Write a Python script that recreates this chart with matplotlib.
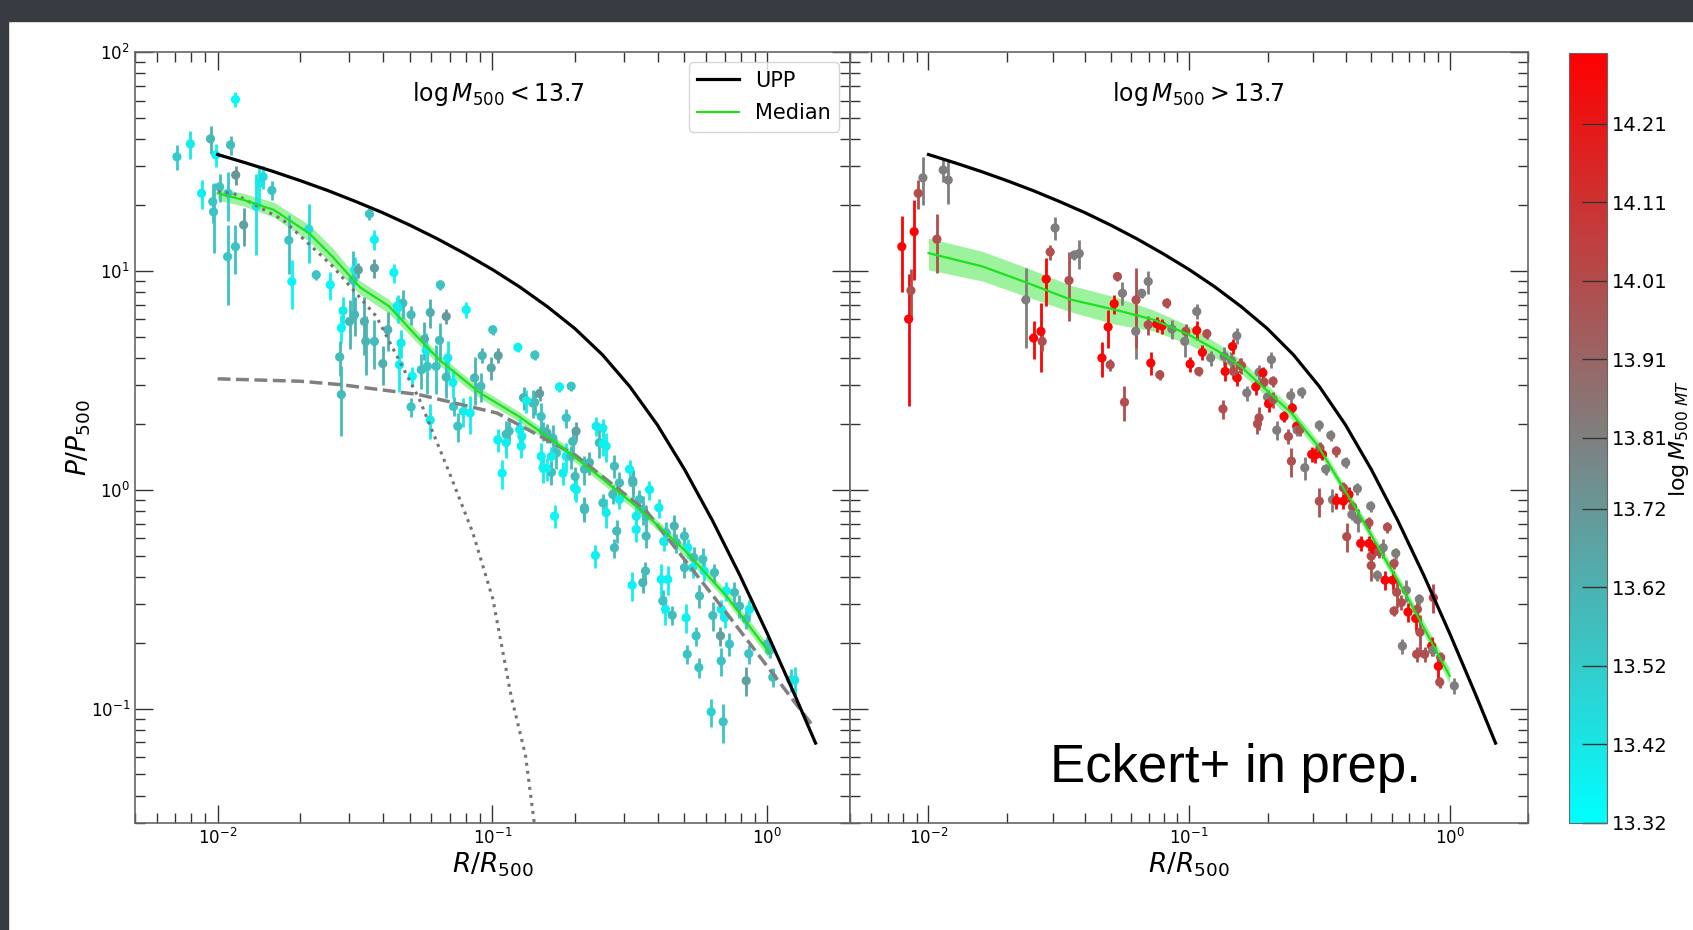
import numpy as np
import matplotlib
matplotlib.use("Agg")
import matplotlib.pyplot as plt
import matplotlib.cm as cm
from matplotlib.colors import LinearSegmentedColormap, Normalize
from matplotlib.patches import Rectangle

plt.rcParams["mathtext.fontset"] = "custom"
plt.rcParams["mathtext.rm"] = "DejaVu Sans Condensed"
plt.rcParams["mathtext.it"] = "DejaVu Sans Condensed:italic"
plt.rcParams["mathtext.bf"] = "DejaVu Sans Condensed:bold"

# ---- profiles ----
upp_r = [0.01, 0.01259, 0.01585, 0.01995, 0.02512, 0.03162, 0.03981, 0.05012, 0.0631, 0.07943,
         0.1, 0.1259, 0.1585, 0.1995, 0.2512, 0.3162, 0.3981, 0.5012, 0.631, 0.7943,
         1.0, 1.259, 1.5]
upp_p = [34.0, 31.2, 28.5, 25.85, 23.3, 20.8, 18.45, 16.16, 14.0, 11.98,
         10.14, 8.43, 6.86, 5.45, 4.14, 2.96, 1.98, 1.233, 0.726, 0.408,
         0.2206, 0.1156, 0.0695]

lo_med_r = [0.01, 0.0124, 0.016, 0.0216, 0.0262, 0.033, 0.042, 0.054, 0.064, 0.09,
            0.125, 0.175, 0.245, 0.35, 0.5, 0.71, 1.02]
lo_med_p = [22.6, 21.1, 19.0, 14.8, 11.6, 8.4, 6.9, 4.9, 3.93, 2.77,
            2.16, 1.6, 1.15, 0.80, 0.53, 0.327, 0.18]
lo_med_lo = [21.0, 19.8, 17.6, 13.6, 10.6, 7.8, 6.4, 4.6, 3.7, 2.62,
             2.05, 1.52, 1.09, 0.76, 0.50, 0.31, 0.168]
lo_med_hi = [24.0, 22.6, 20.6, 16.2, 12.7, 9.0, 7.4, 5.2, 4.15, 2.92,
             2.27, 1.68, 1.21, 0.84, 0.56, 0.345, 0.192]

hi_med_r = [0.01, 0.016, 0.024, 0.035, 0.052, 0.0735, 0.1, 0.129, 0.158, 0.185,
            0.247, 0.313, 0.374, 0.446, 0.547, 0.673, 0.827, 1.0]
hi_med_p = [12.05, 10.5, 8.8, 7.4, 6.64, 5.97, 5.1, 4.3, 3.66, 3.07,
            2.24, 1.58, 1.11, 0.785, 0.515, 0.339, 0.215, 0.141]
hi_med_lo = [10.1, 9.0, 7.6, 6.5, 5.7, 5.3, 4.6, 3.95, 3.4, 2.88,
             2.1, 1.49, 1.05, 0.74, 0.485, 0.318, 0.2, 0.13]
hi_med_hi = [14.1, 12.3, 10.3, 8.6, 7.6, 6.6, 5.6, 4.65, 3.92, 3.27,
             2.38, 1.67, 1.17, 0.83, 0.545, 0.36, 0.23, 0.152]

# two-component model in the low-mass panel
outer_r = [0.01, 0.02, 0.028, 0.054, 0.104, 0.2, 0.363, 0.71, 1.02, 1.47]
outer_p = [3.21, 3.13, 3.02, 2.72, 2.24, 1.44, 0.80, 0.274, 0.151, 0.083]
core_r = [0.01, 0.0114, 0.0173, 0.0262, 0.0378, 0.0543, 0.0698, 0.0849, 0.1004, 0.117, 0.132, 0.142]
core_p = [23.0, 22.6, 17.1, 10.5, 6.19, 2.58, 1.19, 0.635, 0.316, 0.114, 0.061, 0.03]

# ---- individual clusters, low mass ----
lo_r = [0.00711, 0.00796, 0.00942, 0.00985, 0.01114, 0.01161, 0.01163, 0.00874, 0.0096, 0.00966,
        0.01016, 0.01092, 0.01087, 0.01161, 0.01243, 0.01382, 0.0142, 0.01464, 0.01575, 0.01816,
        0.01862, 0.02147, 0.02285, 0.0257, 0.0282, 0.0302, 0.0315, 0.0325, 0.0311, 0.0357,
        0.0372, 0.0372, 0.0438, 0.0647, 0.0803, 0.1003, 0.0679, 0.0506, 0.0472, 0.045,
        0.0416, 0.0278, 0.0282, 0.0315, 0.0342, 0.0346, 0.0372, 0.0399, 0.0459, 0.0453,
        0.0511, 0.0506, 0.0566, 0.0551, 0.058, 0.0574, 0.0594, 0.0594, 0.0642, 0.0624,
        0.0679, 0.0688, 0.0718, 0.0722, 0.0748, 0.0784, 0.083, 0.0861, 0.0908, 0.0918,
        0.099, 0.105, 0.1238, 0.1427, 0.1046, 0.1122, 0.1085, 0.1257, 0.1274, 0.1298,
        0.1403, 0.1484, 0.1505, 0.1505, 0.1528, 0.166, 0.171, 0.1754, 0.1935, 0.1857,
        0.1857, 0.1684, 0.2016, 0.2163, 0.2163, 0.2255, 0.2385, 0.2524, 0.245, 0.2595,
        0.278, 0.2743, 0.2524, 0.290, 0.3155, 0.3245, 0.3337, 0.3526, 0.3626, 0.237,
        0.278, 0.2834, 0.3226, 0.3607, 0.3526, 0.4114, 0.4346, 0.417, 0.4265, 0.4513,
        0.507, 0.5514, 0.5116, 0.564, 0.6254, 0.6917, 0.6806, 0.676, 0.729, 0.857,
        0.839, 1.048, 1.22, 1.26, 1.0, 1.02, 0.862, 0.839, 0.793, 0.76,
        0.709, 0.68, 0.70, 0.634, 0.643, 0.59, 0.583, 0.54, 0.535, 0.567,
        0.5, 0.514, 0.467, 0.459, 0.5, 0.429, 0.42, 0.4036, 0.373, 0.3626,
        0.343, 0.334, 0.324, 0.29, 0.2595, 0.2524, 0.2163, 0.199, 0.2, 0.193,
        0.164, 0.164, 0.158, 0.1122, 0.115, 0.128, 0.1805, 0.202, 0.1424, 0.133,
        0.153, 0.158, 0.196, 0.0286, 0.0465]
lo_p = [33.2, 38.0, 40.1, 33.8, 37.6, 60.7, 27.4, 22.6, 20.7, 18.6,
        24.2, 22.6, 11.6, 12.9, 16.2, 19.7, 25.1, 26.9, 23.3, 13.8,
        8.94, 15.5, 9.59, 8.63, 5.48, 5.87, 10.1, 10.1, 9.1, 18.2,
        13.9, 10.3, 9.82, 8.63, 6.64, 5.38, 6.19, 6.3, 7.12, 6.9,
        5.38, 4.04, 2.72, 6.3, 5.87, 4.76, 4.76, 3.77, 3.72, 6.76,
        3.3, 2.39, 4.88, 3.53, 3.66, 4.33, 6.45, 2.08, 4.81, 3.66,
        3.27, 4.0, 3.09, 2.4, 1.95, 2.28, 2.24, 3.24, 2.97, 4.1,
        3.6, 4.1, 4.47, 4.12, 1.69, 1.79, 1.19, 1.88, 1.58, 2.63,
        2.49, 2.75, 2.16, 1.42, 1.26, 1.72, 1.47, 2.95, 2.97, 2.13,
        1.42, 0.757, 1.85, 1.24, 0.827, 1.33, 1.95, 1.91, 1.64, 1.58,
        1.28, 0.951, 0.871, 0.902, 1.24, 1.075, 0.658, 0.812, 0.614, 0.501,
        0.543, 0.647, 0.366, 0.425, 0.376, 0.389, 0.389, 0.31, 0.284, 0.267,
        0.26, 0.215, 0.177, 0.154, 0.0966, 0.087, 0.165, 0.215, 0.197, 0.178,
        0.134, 0.139, 0.135, 0.135, 0.197, 0.184, 0.284, 0.256, 0.294, 0.339,
        0.345, 0.284, 0.26, 0.266, 0.418, 0.425, 0.481, 0.49, 0.44, 0.327,
        0.44, 0.543, 0.573, 0.682, 0.614, 0.637, 0.58, 0.827, 1.0, 0.757,
        0.902, 0.757, 1.1, 1.075, 0.785, 1.62, 0.81, 1.02, 1.15, 1.42,
        1.42, 1.2, 1.25, 1.64, 1.85, 1.75, 1.19, 1.0, 2.5, 2.55,
        1.85, 1.82, 1.66, 6.57, 4.68]
lo_err = [0.13, 0.15, 0.15, 0.12, 0.10, 0.08, 0.10, 0.15, 0.20, 0.35,
          0.15, 0.25, 0.40, 0.25, 0.20, 0.40, 0.20, 0.12, 0.10, 0.30,
          0.25, 0.30, 0.05, 0.15, 0.15, 0.25, 0.15, 0.08, 0.35, 0.06,
          0.10, 0.10, 0.10, 0.05, 0.08, 0.05, 0.08, 0.10, 0.15, 0.10,
          0.20, 0.18, 0.35, 0.20, 0.30, 0.30, 0.25, 0.20, 0.25, 0.15,
          0.10, 0.10, 0.20, 0.18, 0.25, 0.20, 0.15, 0.18, 0.20, 0.25,
          0.20, 0.20, 0.15, 0.10, 0.15, 0.15, 0.20, 0.25, 0.15, 0.08,
          0.12, 0.08, 0.05, 0.05, 0.12, 0.15, 0.15, 0.12, 0.12, 0.12,
          0.15, 0.08, 0.15, 0.15, 0.15, 0.15, 0.15, 0.05, 0.05, 0.10,
          0.15, 0.12, 0.10, 0.15, 0.12, 0.12, 0.10, 0.10, 0.15, 0.15,
          0.12, 0.10, 0.10, 0.10, 0.10, 0.15, 0.12, 0.15, 0.12, 0.12,
          0.10, 0.12, 0.15, 0.10, 0.10, 0.18, 0.15, 0.12, 0.15, 0.10,
          0.15, 0.10, 0.10, 0.10, 0.15, 0.20, 0.15, 0.10, 0.12, 0.10,
          0.15, 0.10, 0.12, 0.15, 0.08, 0.08, 0.10, 0.10, 0.12, 0.12,
          0.10, 0.10, 0.10, 0.15, 0.10, 0.10, 0.12, 0.12, 0.10, 0.12,
          0.10, 0.10, 0.10, 0.12, 0.10, 0.12, 0.10, 0.10, 0.10, 0.12,
          0.10, 0.12, 0.12, 0.12, 0.15, 0.12, 0.12, 0.12, 0.10, 0.12,
          0.10, 0.12, 0.12, 0.15, 0.12, 0.12, 0.12, 0.12, 0.12, 0.12,
          0.10, 0.10, 0.10, 0.15, 0.15]
lo_m = [13.52, 13.40, 13.60, 13.36, 13.58, 13.34, 13.72, 13.38, 13.55, 13.55,
        13.56, 13.52, 13.55, 13.55, 13.68, 13.42, 13.40, 13.45, 13.55, 13.55,
        13.36, 13.45, 13.55, 13.36, 13.36, 13.60, 13.38, 13.68, 13.55, 13.55,
        13.38, 13.68, 13.36, 13.55, 13.36, 13.55, 13.70, 13.58, 13.58, 13.40,
        13.62, 13.58, 13.58, 13.60, 13.62, 13.60, 13.58, 13.62, 13.38, 13.40,
        13.36, 13.55, 13.62, 13.58, 13.55, 13.40, 13.62, 13.40, 13.58, 13.55,
        13.58, 13.40, 13.38, 13.55, 13.55, 13.40, 13.38, 13.60, 13.58, 13.60,
        13.66, 13.68, 13.38, 13.55, 13.38, 13.58, 13.36, 13.40, 13.38, 13.62,
        13.58, 13.70, 13.55, 13.38, 13.38, 13.58, 13.55, 13.38, 13.55, 13.55,
        13.38, 13.36, 13.68, 13.58, 13.58, 13.60, 13.40, 13.40, 13.58, 13.38,
        13.58, 13.58, 13.55, 13.40, 13.38, 13.58, 13.38, 13.58, 13.58, 13.38,
        13.58, 13.58, 13.38, 13.58, 13.60, 13.38, 13.38, 13.55, 13.38, 13.58,
        13.38, 13.55, 13.55, 13.55, 13.50, 13.55, 13.55, 13.68, 13.55, 13.55,
        13.68, 13.55, 13.50, 13.42, 13.55, 13.55, 13.40, 13.55, 13.58, 13.58,
        13.38, 13.40, 13.40, 13.58, 13.58, 13.38, 13.55, 13.58, 13.40, 13.58,
        13.58, 13.38, 13.58, 13.60, 13.58, 13.55, 13.40, 13.38, 13.38, 13.58,
        13.55, 13.40, 13.60, 13.58, 13.40, 13.38, 13.58, 13.38, 13.58, 13.58,
        13.40, 13.58, 13.38, 13.40, 13.58, 13.40, 13.38, 13.38, 13.58, 13.40,
        13.58, 13.60, 13.58, 13.40, 13.40]

# ---- individual clusters, high mass ----
hi_r = [0.0079, 0.00839, 0.00856, 0.00881, 0.00913, 0.00952, 0.01077, 0.01139, 0.0119, 0.02363,
        0.0253, 0.027, 0.0273, 0.0283, 0.0293, 0.0306, 0.0346, 0.0362, 0.0379, 0.0463,
        0.0498, 0.0489, 0.0516, 0.0531, 0.0555, 0.0565, 0.0624, 0.0626, 0.0658, 0.0697,
        0.0697, 0.0713, 0.0752, 0.0772, 0.0788, 0.0821, 0.0859, 0.0971, 0.0962, 0.1009,
        0.107, 0.107, 0.109, 0.1125, 0.117, 0.121, 0.1363, 0.1375, 0.1349, 0.1454,
        0.1468, 0.1524, 0.153, 0.157, 0.148, 0.1589, 0.1665, 0.1803, 0.1856, 0.192,
        0.194, 0.21, 0.2, 0.2018, 0.21, 0.1856, 0.183, 0.207, 0.217, 0.2314,
        0.2405, 0.2455, 0.2491, 0.2588, 0.26, 0.266, 0.2705, 0.247, 0.278, 0.2955,
        0.305, 0.318, 0.325, 0.316, 0.3345, 0.3497, 0.3675, 0.316, 0.355, 0.3675,
        0.391, 0.399, 0.391, 0.411, 0.4027, 0.4236, 0.4215, 0.4425, 0.443, 0.4556,
        0.49, 0.49, 0.4977, 0.5, 0.5, 0.5126, 0.528, 0.534, 0.556, 0.565,
        0.577, 0.6045, 0.6118, 0.621, 0.626, 0.6118, 0.6527, 0.682, 0.692, 0.7407,
        0.752, 0.765, 0.769, 0.6585, 0.747, 0.8017, 0.853, 0.86, 0.866, 0.924,
        0.905, 0.916, 1.042]
hi_p = [12.9, 6.02, 8.13, 15.1, 22.6, 26.6, 13.95, 28.9, 26.0, 7.37,
        4.93, 5.29, 4.76, 9.17, 12.2, 15.7, 9.04, 11.8, 12.0, 4.0,
        3.72, 5.54, 7.07, 9.42, 7.9, 2.51, 5.29, 7.37, 7.9, 8.94,
        5.67, 3.79, 5.72, 3.35, 5.6, 7.12, 5.42, 5.29, 4.76, 3.75,
        6.52, 5.34, 3.47, 4.24, 5.16, 4.0, 4.07, 3.47, 2.34, 3.89,
        4.51, 5.05, 3.24, 3.7, 3.47, 3.69, 2.77, 2.95, 3.44, 3.42,
        3.1, 3.13, 2.65, 2.47, 2.58, 2.13, 2.0, 3.93, 1.87, 2.16,
        1.75, 2.69, 2.36, 1.95, 1.87, 1.88, 2.79, 1.35, 1.26, 1.45,
        1.44, 1.55, 1.45, 1.97, 1.24, 1.77, 1.5, 0.886, 0.9, 0.89,
        0.886, 1.33, 1.02, 0.95, 0.61, 0.835, 0.77, 1.01, 0.73, 0.568,
        0.568, 0.706, 0.841, 0.497, 0.45, 0.533, 0.406, 0.52, 0.543, 0.386,
        0.674, 0.386, 0.46, 0.512, 0.34, 0.279, 0.305, 0.347, 0.276, 0.258,
        0.284, 0.316, 0.223, 0.193, 0.177, 0.177, 0.193, 0.185, 0.321, 0.171,
        0.156, 0.132, 0.127]
hi_err = [0.38, 0.60, 0.25, 0.40, 0.15, 0.25, 0.30, 0.12, 0.22, 0.40,
          0.20, 0.35, 0.10, 0.25, 0.08, 0.12, 0.35, 0.05, 0.15, 0.18,
          0.06, 0.20, 0.10, 0.05, 0.12, 0.18, 0.25, 0.40, 0.05, 0.12,
          0.10, 0.12, 0.08, 0.05, 0.08, 0.05, 0.10, 0.08, 0.15, 0.08,
          0.08, 0.10, 0.05, 0.08, 0.05, 0.08, 0.10, 0.10, 0.10, 0.10,
          0.08, 0.08, 0.08, 0.08, 0.08, 0.08, 0.08, 0.08, 0.08, 0.06,
          0.06, 0.06, 0.08, 0.08, 0.08, 0.12, 0.10, 0.08, 0.10, 0.06,
          0.08, 0.08, 0.05, 0.06, 0.06, 0.06, 0.06, 0.15, 0.12, 0.08,
          0.08, 0.06, 0.06, 0.06, 0.06, 0.06, 0.06, 0.15, 0.12, 0.08,
          0.08, 0.06, 0.06, 0.08, 0.15, 0.06, 0.06, 0.06, 0.12, 0.08,
          0.08, 0.06, 0.06, 0.08, 0.15, 0.08, 0.06, 0.06, 0.10, 0.10,
          0.06, 0.10, 0.06, 0.06, 0.15, 0.05, 0.08, 0.12, 0.10, 0.12,
          0.08, 0.06, 0.20, 0.08, 0.08, 0.08, 0.10, 0.06, 0.15, 0.06,
          0.15, 0.06, 0.08]
hi_m = [14.28, 14.28, 14.00, 14.28, 14.00, 13.82, 14.00, 13.82, 13.82, 13.82,
        14.28, 14.28, 14.00, 14.28, 14.00, 13.82, 14.00, 13.82, 13.82, 14.28,
        14.00, 14.28, 14.28, 14.00, 13.82, 14.00, 13.82, 14.00, 13.82, 13.82,
        14.00, 14.28, 14.28, 14.00, 14.28, 14.00, 13.82, 14.00, 13.82, 14.28,
        13.82, 14.28, 14.00, 14.28, 14.00, 13.82, 13.82, 14.28, 14.00, 13.82,
        14.28, 13.82, 14.28, 14.00, 14.00, 14.00, 13.82, 14.28, 13.82, 14.28,
        14.00, 14.00, 13.82, 14.28, 14.00, 14.00, 14.00, 13.82, 13.82, 14.28,
        14.00, 13.82, 14.28, 14.28, 13.82, 14.00, 13.82, 14.00, 13.82, 14.28,
        14.28, 14.00, 14.28, 13.82, 13.82, 13.82, 14.00, 14.00, 13.82, 14.28,
        14.28, 13.82, 14.00, 14.28, 14.00, 14.00, 13.82, 13.82, 13.82, 14.28,
        14.28, 14.00, 13.82, 14.00, 14.00, 14.28, 13.82, 14.00, 13.82, 14.28,
        14.00, 14.28, 14.00, 13.82, 14.00, 14.00, 14.00, 13.82, 14.28, 14.28,
        14.00, 13.82, 14.00, 13.82, 14.00, 14.00, 14.28, 13.82, 14.05, 14.00,
        14.28, 14.00, 13.82]

cbar_ticks = [13.32, 13.42, 13.52, 13.62, 13.72, 13.81, 13.91, 14.01, 14.11, 14.21]
cbar_labels = ["13.32", "13.42", "13.52", "13.62", "13.72", "13.81", "13.91", "14.01", "14.11", "14.21"]

cmap = LinearSegmentedColormap.from_list("mass", ["#00ffff", "#808080", "#ff0000"])
norm = Normalize(13.32, 14.30)


def draw_clusters(ax, r, p, err, m):
    r = np.array(r)
    p = np.array(p)
    err = np.array(err)
    cols = cmap(norm(np.array(m)))
    ax.vlines(r, p * (1 - err), p * (1 + err), colors=cols, lw=2.0, zorder=2)
    ax.scatter(r, p, c=cols, s=44, edgecolors="none", zorder=2.1)


fig = plt.figure(figsize=(16.93, 9.30), dpi=100)
ax1 = fig.add_axes([0.0797, 0.1151, 0.4223, 0.829])
ax2 = fig.add_axes([0.5021, 0.1151, 0.4005, 0.829])
cax = fig.add_axes([0.9268, 0.1151, 0.0225, 0.828])

# dark slide border of the screenshot
fig.patches.append(Rectangle((0, 1 - 21 / 930), 1, 21 / 930, transform=fig.transFigure,
                             color="#383b41", zorder=-1))
fig.patches.append(Rectangle((0, 0), 8 / 1693, 1, transform=fig.transFigure,
                             color="#383b41", zorder=-1))

# left panel
draw_clusters(ax1, lo_r, lo_p, lo_err, lo_m)
ax1.fill_between(lo_med_r, lo_med_lo, lo_med_hi, color="#7def7d", alpha=0.75, lw=0, zorder=1)
ax1.plot(outer_r, outer_p, color="0.5", lw=2.5, ls="--", zorder=3)
ax1.plot(core_r, core_p, color="0.45", lw=2.2, ls=":", zorder=3)
ax1.plot(lo_med_r, lo_med_p, color="#1fe01f", lw=1.6, zorder=3.5, label="Median")
ax1.plot(upp_r, upp_p, color="black", lw=2.3, zorder=4, label="UPP")

# right panel
draw_clusters(ax2, hi_r, hi_p, hi_err, hi_m)
ax2.fill_between(hi_med_r, hi_med_lo, hi_med_hi, color="#7def7d", alpha=0.75, lw=0, zorder=1)
ax2.plot(hi_med_r, hi_med_p, color="#1fe01f", lw=1.6, zorder=3.5)
ax2.plot(upp_r, upp_p, color="black", lw=2.3, zorder=4)

for ax in (ax1, ax2):
    ax.set_xscale("log")
    ax.set_yscale("log")
    ax.set_xlim(0.005, 2)
    ax.set_ylim(0.03, 100)
    ax.tick_params(which="both", direction="in", top=True, right=True, color="0.2",
                   labelsize=12)
    ax.tick_params(which="major", length=13, width=1)
    ax.tick_params(which="minor", length=7, width=1)
    for s in ax.spines.values():
        s.set_color("0.4")
        s.set_linewidth(1.2)
    ax.set_xlabel(r"$R/R_{500}$", fontsize=19, labelpad=2)

ax2.tick_params(labelleft=False)
ax1.set_ylabel(r"$P/P_{500}$", fontsize=19, labelpad=-2)

ax1.text(0.508, 0.945, r"$\log M_{500} < 13.7$", transform=ax1.transAxes, ha="center",
         va="center", fontsize=17, math_fontfamily="dejavusans")
ax2.text(0.514, 0.945, r"$\log M_{500} > 13.7$", transform=ax2.transAxes, ha="center",
         va="center", fontsize=17, math_fontfamily="dejavusans")
ax2.text(0.569, 0.053, "Eckert+ in prep.", transform=ax2.transAxes, ha="center",
         va="baseline", fontsize=38, family=["Liberation Sans", "DejaVu Sans"])

h, l = ax1.get_legend_handles_labels()
ax1.legend([h[1], h[0]], [l[1], l[0]], loc="upper right", fontsize=15, labelspacing=0.6)

cb = fig.colorbar(cm.ScalarMappable(norm=norm, cmap=cmap), cax=cax)
cb.set_ticks(cbar_ticks)
cb.set_ticklabels(cbar_labels)
cb.ax.tick_params(direction="in", length=18, width=1, color="0.2", labelsize=14)
cb.outline.set_edgecolor("0.4")
cb.set_label(r"$\log M_{500\ MT}$", fontsize=16, labelpad=-1)

fig.savefig("out.png", dpi=100)
